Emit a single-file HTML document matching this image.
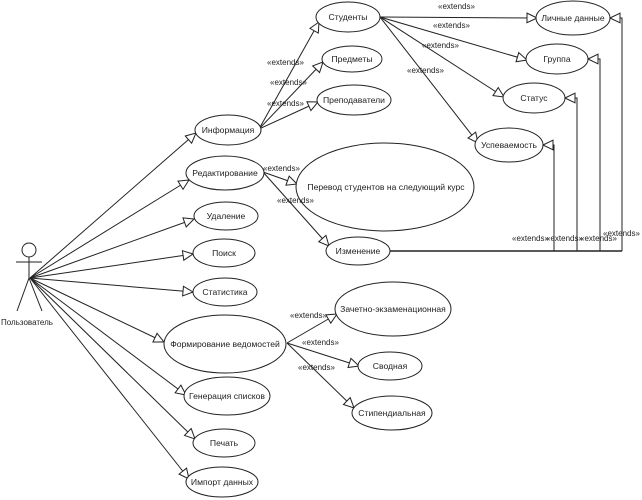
<!DOCTYPE html>
<html><head><meta charset="utf-8"><style>
html,body{margin:0;padding:0;background:#fff;}
svg{display:block;}
text{font-family:"Liberation Sans","DejaVu Sans",sans-serif;fill:#222;}
.u{font-size:8.6px;text-anchor:middle;}
.x{font-size:8px;}
</style></head><body>
<svg width="642" height="500" viewBox="0 0 642 500" xmlns="http://www.w3.org/2000/svg">
<defs>
<marker id="a" markerWidth="12" markerHeight="12" refX="11" refY="6" orient="auto" markerUnits="userSpaceOnUse">
<path d="M1,1.2 L11,6 L1,10.8 z" fill="#fff" stroke="#222" stroke-width="1"/>
</marker>
</defs>
<g stroke="#222" stroke-width="1" fill="none">
<!-- actor -->
<circle cx="29" cy="250" r="7"/>
<line x1="16" y1="262" x2="42" y2="262"/>
<line x1="29" y1="257" x2="29" y2="278"/>
<line x1="29" y1="278" x2="17" y2="311"/>
<line x1="29" y1="278" x2="42" y2="311"/>
<!-- actor associations -->
<line x1="30" y1="278" x2="196" y2="133" marker-end="url(#a)"/>
<line x1="30" y1="278" x2="189" y2="180" marker-end="url(#a)"/>
<line x1="30" y1="278" x2="194" y2="219" marker-end="url(#a)"/>
<line x1="30" y1="278" x2="193" y2="254" marker-end="url(#a)"/>
<line x1="30" y1="278" x2="193" y2="292" marker-end="url(#a)"/>
<line x1="30" y1="278" x2="164" y2="342" marker-end="url(#a)"/>
<line x1="30" y1="278" x2="186" y2="395" marker-end="url(#a)"/>
<line x1="30" y1="278" x2="195" y2="439" marker-end="url(#a)"/>
<line x1="30" y1="278" x2="189" y2="479" marker-end="url(#a)"/>
<!-- Информация extends -->
<line x1="259" y1="129" x2="319" y2="22" marker-end="url(#a)"/>
<line x1="259" y1="129" x2="323" y2="62" marker-end="url(#a)"/>
<line x1="259" y1="129" x2="318" y2="102" marker-end="url(#a)"/>
<!-- Студенты extends -->
<line x1="380" y1="17" x2="537" y2="18" marker-end="url(#a)"/>
<line x1="380" y1="17" x2="527" y2="60" marker-end="url(#a)"/>
<line x1="380" y1="17" x2="504" y2="97" marker-end="url(#a)"/>
<line x1="380" y1="17" x2="478" y2="143" marker-end="url(#a)"/>
<!-- Редактирование extends -->
<line x1="263" y1="172" x2="297" y2="184" marker-end="url(#a)"/>
<line x1="263" y1="172" x2="329" y2="246" marker-end="url(#a)"/>
<!-- Формирование extends -->
<line x1="287" y1="343" x2="337" y2="314" marker-end="url(#a)"/>
<line x1="287" y1="343" x2="359" y2="366" marker-end="url(#a)"/>
<line x1="287" y1="343" x2="354" y2="408" marker-end="url(#a)"/>
<!-- Изменение routed connectors -->
<line x1="390" y1="251" x2="622" y2="251" stroke-width="1.6"/>
<polyline points="622,251 622,18 610,18" marker-end="url(#a)"/>
<polyline points="600,251 600,59 588,59" marker-end="url(#a)"/>
<polyline points="577,251 577,98 565,98" marker-end="url(#a)"/>
<polyline points="554,251 554,145 543,145" marker-end="url(#a)"/>
</g>
<!-- ellipses -->
<g stroke="#222" stroke-width="1" fill="#fff">
<ellipse cx="228" cy="130" rx="33" ry="15"/>
<ellipse cx="225" cy="173" rx="39" ry="17"/>
<ellipse cx="226" cy="216" rx="32" ry="14"/>
<ellipse cx="224" cy="253" rx="31" ry="14"/>
<ellipse cx="225" cy="292" rx="32" ry="14"/>
<ellipse cx="225" cy="344" rx="61" ry="29"/>
<ellipse cx="227" cy="396" rx="43" ry="19"/>
<ellipse cx="224" cy="443" rx="31" ry="14"/>
<ellipse cx="222" cy="482" rx="36" ry="15"/>
<ellipse cx="348" cy="17" rx="32" ry="15"/>
<ellipse cx="352" cy="59" rx="30" ry="13"/>
<ellipse cx="354" cy="100" rx="37" ry="15"/>
<ellipse cx="573" cy="18" rx="37" ry="17"/>
<ellipse cx="557" cy="59" rx="31" ry="15"/>
<ellipse cx="534" cy="98" rx="31" ry="15"/>
<ellipse cx="509" cy="145" rx="34" ry="17"/>
<ellipse cx="385" cy="187" rx="89" ry="44"/>
<ellipse cx="358" cy="251" rx="32" ry="14"/>
<ellipse cx="393" cy="309" rx="58" ry="27"/>
<ellipse cx="390" cy="366" rx="32" ry="14"/>
<ellipse cx="392" cy="413" rx="40" ry="17"/>
</g>
<!-- use case labels -->
<text class="u" x="228" y="133">Информация</text>
<text class="u" x="225" y="176">Редактирование</text>
<text class="u" x="226" y="219">Удаление</text>
<text class="u" x="224" y="256">Поиск</text>
<text class="u" x="225" y="295">Статистика</text>
<text class="u" x="225" y="347">Формирование ведомостей</text>
<text class="u" x="227" y="399">Генерация списков</text>
<text class="u" x="224" y="446">Печать</text>
<text class="u" x="222" y="485">Импорт данных</text>
<text class="u" x="348" y="20">Студенты</text>
<text class="u" x="352" y="62">Предметы</text>
<text class="u" x="354" y="103">Преподаватели</text>
<text class="u" x="573" y="21">Личные данные</text>
<text class="u" x="557" y="62">Группа</text>
<text class="u" x="534" y="101">Статус</text>
<text class="u" x="509" y="148">Успеваемость</text>
<text class="u" x="386" y="190">Перевод студентов на следующий курс</text>
<text class="u" x="358" y="254">Изменение</text>
<text class="u" x="393" y="312">Зачетно-экзаменационная</text>
<text class="u" x="390" y="369">Сводная</text>
<text class="u" x="392" y="416">Стипендиальная</text>
<text class="u" x="27" y="325" style="font-size:8px">Пользователь</text>
<!-- extends labels -->
<text class="x" x="267" y="65">«extends»</text>
<text class="x" x="270" y="85">«extends»</text>
<text class="x" x="267" y="106">«extends»</text>
<text class="x" x="438" y="9">«extends»</text>
<text class="x" x="433" y="28">«extends»</text>
<text class="x" x="422" y="48">«extends»</text>
<text class="x" x="407" y="73">«extends»</text>
<text class="x" x="263" y="171">«extends»</text>
<text class="x" x="277" y="203">«extends»</text>
<text class="x" x="290" y="318">«extends»</text>
<text class="x" x="302" y="345">«extends»</text>
<text class="x" x="298" y="370">«extends»</text>
<text class="x" x="512" y="241">«extends»</text>
<text class="x" x="546" y="241">«extends»</text>
<text class="x" x="580" y="241">«extends»</text>
<text class="x" x="603" y="236">«extends»</text>
</svg>
</body></html>
